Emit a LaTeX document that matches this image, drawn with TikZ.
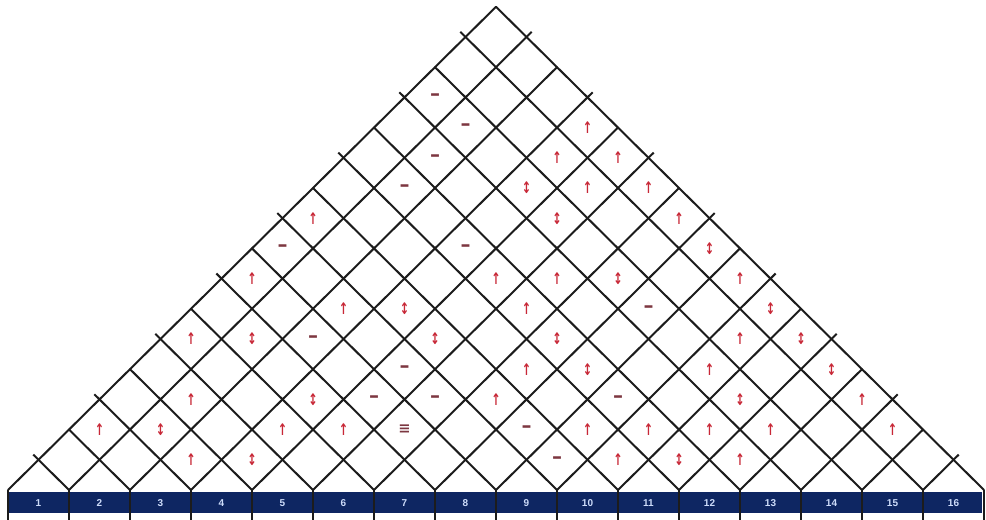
\documentclass[tikz,border=0pt]{standalone}
\usepackage{fontspec}
\setmainfont{Liberation Sans}
\newfontfamily\symfont{DejaVu Sans}
\definecolor{navy}{RGB}{14,38,98}
\definecolor{arrowred}{RGB}{200,40,55}
\definecolor{dashred}{RGB}{125,55,65}
\definecolor{gridblack}{RGB}{28,28,28}
\definecolor{numblue}{RGB}{205,220,250}
\begin{document}
\begin{tikzpicture}[x=22.875pt,y=22.65pt,
  gridline/.style={draw=gridblack,line width=1.5pt,line cap=round},
  tickline/.style={draw=gridblack,line width=1.5pt},
  sepline/.style={draw=gridblack,line width=1pt},
  sym/.style={inner sep=0pt},
  upsym/.style={sym,text=arrowred,font=\symfont\bfseries\fontsize{12}{12}\selectfont,xscale=0.7},
  udsym/.style={sym,text=arrowred,font=\symfont\bfseries\fontsize{12}{12}\selectfont,xscale=0.7},
  dashsym/.style={sym,text=dashred,font=\symfont\bfseries\fontsize{15}{15}\selectfont},
  eqsym/.style={sym,text=dashred,font=\symfont\bfseries\fontsize{11}{11}\selectfont},
  numlabel/.style={inner sep=0pt,text=numblue,font=\bfseries\fontsize{7.5}{7.5}\selectfont}
]
\useasboundingbox (-0.2623,-0.9934) rectangle (32.0656,16.2252);
\fill[white] (-0.2623,-0.9934) rectangle (32.0656,16.2252);
% bottom bar
\fill[navy] (-0.03,-0.05) rectangle (31.95,-0.76);
\foreach \k in {0,...,16} \draw[sepline] (2*\k,0) -- (2*\k,-0.9934);
\foreach \n in {1,...,16} \node[numlabel] (n\n) at (2*\n-1,-0.42) {\n};
% grid
\foreach \k in {0,...,15} \draw[gridline] (2*\k,0) -- (16+\k,16-\k);
\foreach \k in {1,...,16} \draw[gridline] (2*\k,0) -- (\k,\k);
% edge ticks
\foreach \k in {1,3,...,15} {
  \draw[tickline] (\k,\k) -- ++(-0.17,0.17);
  \draw[tickline] (16+\k,16-\k) -- ++(0.17,0.17);
}
% up arrows
\foreach \a/\b [count=\i] in {19/12,18/11,20/11,19/10,21/10,10/9,22/9,8/7,16/7,18/7,24/7,11/6,17/6,6/5,24/5,17/4,23/4,6/3,16/3,28/3,3/2,9/2,11/2,19/2,21/2,23/2,25/2,29/2,6/1,20/1,24/1}
  \node[upsym] (u\i) at (\a,\b) {↑};
% up-down arrows
\foreach \a/\b [count=\i] in {17/10,18/9,23/8,20/7,13/6,25/6,8/5,14/5,18/5,26/5,19/4,27/4,10/3,24/3,5/2,8/1,22/1}
  \node[udsym] (d\i) at (\a,\b) {↕};
% dashes
\foreach \a/\b [count=\i] in {14/13,15/12,14/11,13/10,9/8,15/8,21/6,10/5,13/4,12/3,14/3,20/3,17/2,18/1}
  \node[dashsym] (m\i) at (\a,\b) {–};
\node[eqsym] (e1) at (13,2) {≡};
\end{tikzpicture}
\end{document}
